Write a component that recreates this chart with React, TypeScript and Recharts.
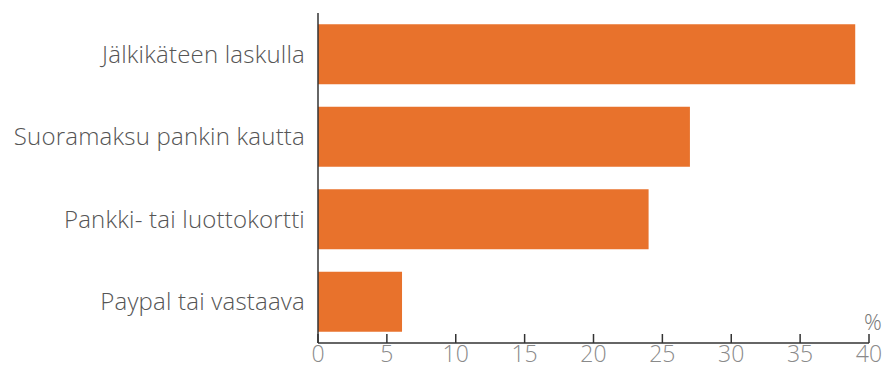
import { BarChart, Bar, XAxis, YAxis, Label } from 'recharts'

const categories = [
  'Jälkikäteen laskulla',
  'Suoramaksu pankin kautta',
  'Pankki- tai luottokortti',
  'Paypal tai vastaava',
]
const shares = [39, 27, 24, 6.1]
const xTicks = [0, 5, 10, 15, 20, 25, 30, 35, 40]

const data = categories.map((name, i) => ({ name, value: shares[i] }))

const font = '"Open Sans", "DejaVu Sans", sans-serif'

export default function App() {
  return (
    <div style={{ position: 'absolute', left: 0, top: 0, background: '#fff' }}>
      <BarChart
        width={886}
        height={372}
        data={data}
        layout="vertical"
        margin={{ top: 13, right: 17, left: 0, bottom: 0 }}
        barCategoryGap="13.5%"
      >
        <XAxis
          type="number"
          domain={[0, 40]}
          ticks={xTicks}
          height={29}
          tickSize={-9}
          tickMargin={12}
          stroke="#333"
          strokeWidth={1.5}
          tick={{ fill: '#8a8a8a', fontSize: 23, fontFamily: font, fontWeight: 300 }}
        >
          <Label
            content={({ viewBox }: any) => (
              <text
                x={viewBox.x + viewBox.width + 4}
                y={viewBox.y - 13}
                fill="#777"
                fontSize={22}
                fontFamily={font}
                fontWeight={300}
                textAnchor="middle"
              >
                %
              </text>
            )}
          />
        </XAxis>
        <YAxis
          type="category"
          dataKey="name"
          width={318}
          tickLine={false}
          tickSize={0}
          tickMargin={13}
          stroke="#333"
          strokeWidth={1.5}
          tick={{ fill: '#555', fontSize: 24, fontFamily: font, fontWeight: 300, letterSpacing: 0.2 }}
        />
        <Bar dataKey="value" fill="#e8722c" isAnimationActive={false} />
      </BarChart>
    </div>
  )
}
